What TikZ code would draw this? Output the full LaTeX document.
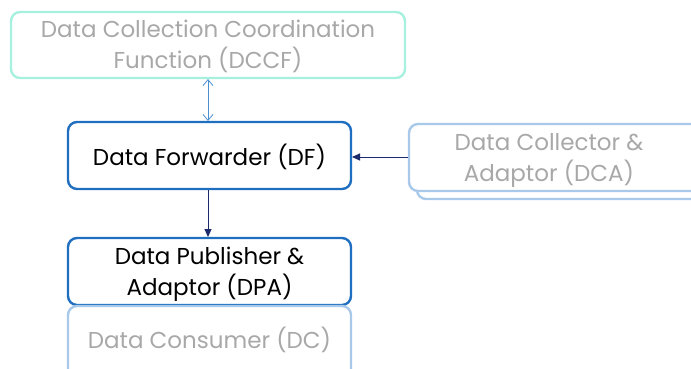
\documentclass[tikz,border=0pt]{standalone}
\usepackage{fontspec}
\setmainfont{Poppins}
\usetikzlibrary{arrows.meta}
\definecolor{mint}{HTML}{A6F0DE}
\definecolor{dfblue}{HTML}{1F6EBF}
\definecolor{lightblue}{HTML}{A9C9EA}
\definecolor{greytext}{HTML}{A8A8A8}
\definecolor{navy}{HTML}{1B2A6B}
\definecolor{midblue}{HTML}{4A90D0}
\tikzset{
  box/.style={rounded corners=9pt, line width=2.4pt},
  mainbox/.style={box, draw=dfblue},
  txt/.style={align=center, inner sep=0pt, font=\fontsize{23}{31}\selectfont},
  navyarrow/.style={draw=navy, line width=1pt, -{Triangle[length=8pt,width=7pt]}},
}
\begin{document}
\begin{tikzpicture}[x=1pt,y=-1pt]
\useasboundingbox (0,0) rectangle (691,368);
\clip (0,0) rectangle (691,368);
% DCCF
\draw[box, draw=mint] (11,12) rectangle (405,78);
\node[txt, text=greytext] (dccf) at (208,46) {Data Collection Coordination\\Function (DCCF)};
\coordinate (dccfb) at (208,79);
% DF
\draw[mainbox] (68,122) rectangle (351,189);
\node[txt, text=black] (df) at (209.5,157) {Data Forwarder (DF)};
\coordinate (dft) at (208,121);
\coordinate (dfb) at (208,190);
\coordinate (dfr) at (352,157);
% DCA (shadow and front)
\draw[box, draw=lightblue, fill=white] (417,131) rectangle (700,199);
\draw[box, draw=lightblue, fill=white] (409,124) rectangle (700,191);
\node[txt, text=greytext] (dca) at (549,160.5) {Data Collector \&\\Adaptor (DCA)};
\coordinate (dcal) at (408,157);
% DPA
\draw[mainbox] (68,238) rectangle (351,305);
\node[txt, text=black] (dpa) at (209.5,274) {Data Publisher \&\\Adaptor (DPA)};
\coordinate (dpat) at (208,237);
% DC
\draw[box, draw=lightblue] (68,306) rectangle (351,385);
\node[txt, text=greytext] (dc) at (209.5,340) {Data Consumer (DC)};
% arrows
\draw[draw=midblue, line width=0.8pt, {Straight Barb[length=6pt,width=10pt]}-{Straight Barb[length=6pt,width=10pt]}] (dccfb) -- (dft);
\draw[navyarrow] (dcal) -- (dfr);
\draw[navyarrow] (dfb) -- (dpat);
\end{tikzpicture}
\end{document}
